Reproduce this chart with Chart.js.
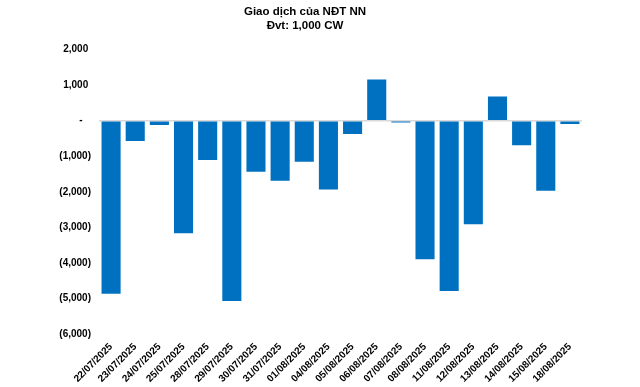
<!DOCTYPE html>
<html>
<head>
<meta charset="utf-8">
<script src="https://cdn.jsdelivr.net/npm/chart.js@4/dist/chart.umd.min.js"></script>
<style>
  html, body { margin: 0; padding: 0; background: #fff; }
  #wrap { width: 640px; height: 387px; position: relative; }
</style>
</head>
<body>
<div id="wrap"><canvas id="c" width="640" height="387"></canvas></div>
<script>
const titleLines = ['Giao dịch của NĐT NN', 'Đvt: 1,000 CW'];
const categories = ['22/07/2025','23/07/2025','24/07/2025','25/07/2025','28/07/2025','29/07/2025','30/07/2025','31/07/2025','01/08/2025','04/08/2025','05/08/2025','06/08/2025','07/08/2025','08/08/2025','11/08/2025','12/08/2025','13/08/2025','14/08/2025','15/08/2025','18/08/2025'];
const netValues = [-4870, -570, -120, -3170, -1110, -5070, -1435, -1690, -1155, -1940, -375, 1155, -50, -3900, -4790, -2915, 680, -690, -1975, -95];
const yMin = -6000, yMax = 2000, yStep = 1000;

function fmtAccounting(v) {
  if (v === 0) return '-   ';
  const s = Math.abs(v).toLocaleString('en-US');
  return v < 0 ? '(' + s + ')' : s + ' ';
}

Chart.defaults.font.family = '"Liberation Sans", Arial, sans-serif';
Chart.defaults.color = '#000';

new Chart(document.getElementById('c'), {
  type: 'bar',
  data: {
    labels: categories,
    datasets: [{
      data: netValues,
      backgroundColor: '#0070C0',
      borderWidth: 0,
      categoryPercentage: 1.0,
      barPercentage: 0.79
    }]
  },
  options: {
    responsive: false,
    animation: false,
    layout: { padding: { left: 0, right: 30, top: 0, bottom: 0 } },
    plugins: {
      legend: { display: false },
      tooltip: { enabled: false },
      title: {
        display: true,
        text: titleLines,
        font: { size: 11.5, weight: 'bold', lineHeight: 1.2 },
        color: '#000',
        padding: { top: 5, bottom: 16.9 }
      }
    },
    scales: {
      x: {
        grid: { display: false, drawTicks: false },
        border: { display: false },
        ticks: {
          font: { size: 10, weight: 'bold' },
          maxRotation: 45,
          minRotation: 45,
          autoSkip: false,
          padding: 7
        },
        afterFit: s => { s.height = 53; }
      },
      y: {
        min: yMin,
        max: yMax,
        grid: {
          drawTicks: false,
          lineWidth: 1.5,
          color: ctx => (ctx.tick && ctx.tick.value === 0) ? '#d9d9d9' : 'rgba(0,0,0,0)'
        },
        border: { display: false },
        ticks: {
          stepSize: yStep,
          font: { size: 10, weight: 'bold' },
          padding: 8,
          callback: v => fmtAccounting(v)
        },
        afterFit: s => { s.width = 99; }
      },
      y2: {
        position: 'right',
        display: true,
        grid: { display: false, drawTicks: false },
        border: { display: false },
        ticks: { display: false },
        afterFit: s => { s.width = 28; }
      }
    }
  }
});
</script>
</body>
</html>
